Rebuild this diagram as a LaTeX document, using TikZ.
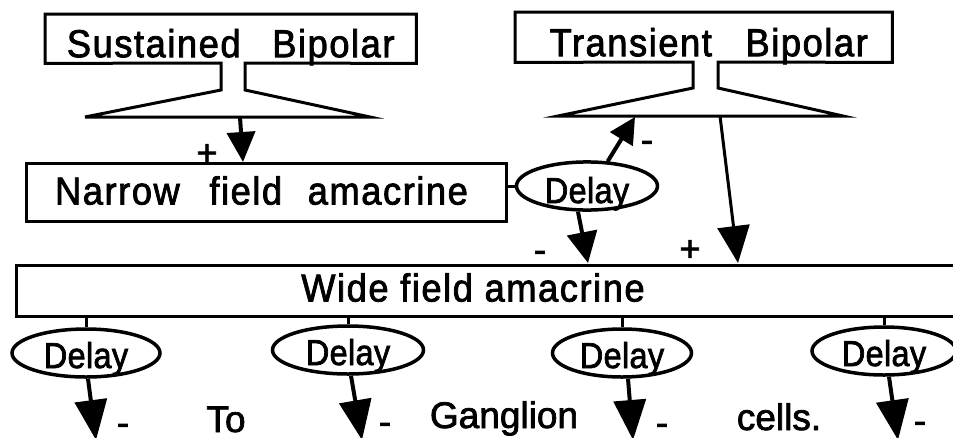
\documentclass[tikz,border=0pt]{standalone}
\usepackage{fontspec}
\setmainfont[FakeBold=2]{Liberation Sans}
\newfontfamily\boxfont[LetterSpace=4,FakeBold=2,FakeStretch=0.93]{Liberation Sans}
\newfontfamily\delayfont[LetterSpace=1,FakeBold=2,FakeStretch=0.9]{Liberation Sans}
\usetikzlibrary{arrows.meta,shapes.geometric,calc}
\tikzset{
  cellbox/.style={rectangle, inner sep=0pt, anchor=north west,
    font=\boxfont\fontsize{39}{42}\selectfont},
  framed/.style={draw, line width=3pt},
  delaynode/.style={ellipse, draw, line width=3.5pt, fill=white, inner sep=0pt,
    minimum width=146pt, minimum height=48pt, text height=30pt, text depth=0pt,
    font=\delayfont\fontsize{36}{38}\selectfont},
  outline/.style={line width=3pt, line join=miter},
  wire/.style={line width=3pt},
  bigarrow/.style={line width=4pt, -{Triangle[length=40pt,width=32pt]}},
  sign/.style={font=\fontsize{36}{40}\selectfont, inner sep=0pt, anchor=base},
  caption/.style={font=\fontsize{37}{40}\selectfont, inner sep=0pt, anchor=base},
}
\begin{document}
\begin{tikzpicture}[x=1pt,y=-1pt]
\useasboundingbox (0,0) rectangle (953,437);
\clip (0,0) rectangle (953,437);

% Sustained bipolar
\node[cellbox, minimum width=371pt, minimum height=49pt, text height=43pt, text depth=6pt]
  (sb) at (45,14) {Sustained\hspace{20pt} Bipolar};
\draw[outline] (sb.south west) -- (sb.north west) -- (sb.north east) -- (sb.south east)
  -- (245,63) -- (245,90) -- (370,117) -- (85,117) -- (221,90) -- (221,63) -- cycle;

% Transient bipolar
\node[cellbox, minimum width=377pt, minimum height=50pt, text height=44pt, text depth=6pt]
  (tb) at (515,12) {\hspace*{10pt}Transient\hspace{22pt} Bipolar};
\draw[outline] (tb.south west) -- (tb.north west) -- (tb.north east) -- (tb.south east)
  -- (718,62) -- (718,88) -- (843,116) -- (558,116) -- (693,88) -- (693,62) -- cycle;

% Narrow field amacrine
\node[cellbox, framed, minimum width=480pt, minimum height=58pt, text height=41pt, text depth=17pt]
  (narrow) at (25,162) {\hspace*{-10pt}Narrow\hspace{18pt} field\hspace{14pt} amacrine};

% Wide field amacrine
\node[cellbox, framed, minimum width=945pt, minimum height=51pt, text height=36pt, text depth=15pt]
  (wide) at (15,264) {\hspace*{-32pt}Wide field amacrine};

% Delay ellipses
\node[delaynode, minimum width=141pt, text height=34pt] (delay0) at (587,186) {Delay};
\node[delaynode, minimum width=148pt] (d1) at (86,353) {Delay};
\node[delaynode, minimum width=151pt] (d2) at (348,350) {Delay};
\node[delaynode, minimum width=139pt] (d3) at (622,353) {Delay};
\node[delaynode, minimum width=144pt] (d4) at (884,351) {Delay};

% wires
\draw[wire] (narrow.east |- delay0.west) -- (delay0.west);
\foreach \d in {d1,d2,d3,d4}
  \draw[wire] (\d.north) -- (\d.north |- wide.south);

% arrows
\coordinate (sbout) at (240,117);
\coordinate (nin) at (243,162);
\draw[line width=4pt, -{Triangle[length=30pt,width=28pt]}] (sbout) -- (nin);

\coordinate (tbin) at (635,117);
\draw[line width=4pt, -{Triangle[length=26pt,width=26pt]}] (delay0.50) -- (tbin);

\coordinate (w1) at (588,263);
\draw[line width=4pt, -{Triangle[length=31pt,width=30pt]}] ([xshift=-9pt]delay0.south) -- (w1);

\coordinate (tbout) at (720,116);
\coordinate (w2) at (738,263);
\draw[line width=3pt, -{Triangle[length=37pt,width=32pt]}] (tbout) -- (w2);

\coordinate (g1) at (96,440);
\coordinate (g2) at (362,440);
\coordinate (g3) at (633,440);
\coordinate (g4) at (898,440);
\draw[bigarrow] ([xshift=2pt]d1.south) -- (g1);
\draw[bigarrow] ([xshift=3pt]d2.south) -- (g2);
\draw[bigarrow] ([xshift=6pt]d3.south) -- (g3);
\draw[bigarrow] ([xshift=5pt]d4.south) -- (g4);

% signs
\node[sign] (p1) at (207,165) {+};
\node[sign] (m1) at (647,152) {-};
\node[sign] (m2) at (540,262) {-};
\node[sign] (p2) at (690,261) {+};
\node[sign] (m3) at (123,435) {-};
\node[sign] (m4) at (385,434) {-};
\node[sign] (m5) at (662,435) {-};
\node[sign] (m6) at (920,433) {-};

% captions
\node[caption] (to) at (226,432) {To};
\node[caption] (gang) at (504,428) {Ganglion};
\node[caption] (cells) at (779,430) {cells.};
\end{tikzpicture}
\end{document}
